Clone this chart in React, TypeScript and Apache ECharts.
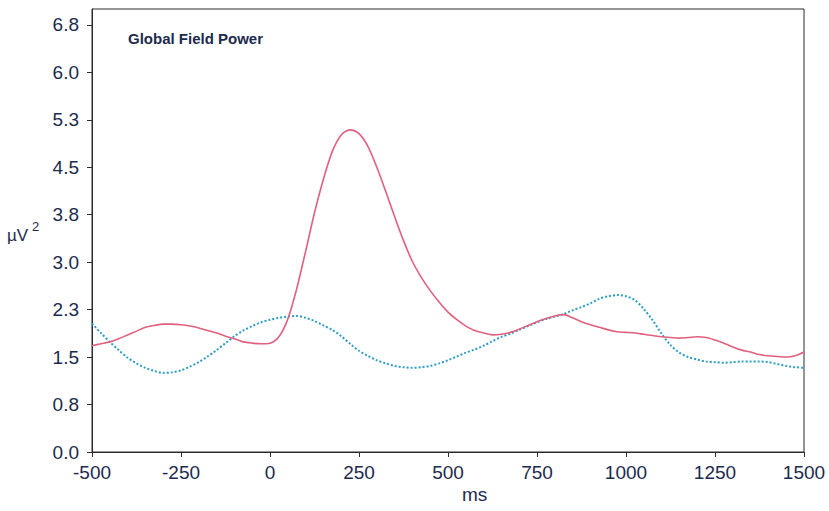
import React, { useEffect, useRef } from "react";
import * as echarts from "echarts";

const timesMs = [
  -500, -475, -450, -425, -400, -375, -350, -325, -300, -275, -250, -225, -200, -175, -150, -125, -100, -75, -50, -25,
  0, 25, 50, 75, 100, 125, 150, 175, 200, 225, 250, 275, 300, 325, 350, 375, 400, 425, 450, 475, 500, 525, 550, 575,
  600, 625, 650, 675, 700, 725, 750, 775, 800, 825, 850, 875, 900, 925, 950, 975, 1000, 1025, 1050, 1075, 1100, 1125,
  1150, 1175, 1200, 1225, 1250, 1275, 1300, 1325, 1350, 1375, 1400, 1425, 1450, 1475, 1500,
];

const redGfp = [
  1.68, 1.71, 1.74, 1.79, 1.85, 1.91, 1.97, 2.0, 2.02, 2.02, 2.01, 1.99, 1.96, 1.92, 1.88, 1.83, 1.79, 1.74, 1.72, 1.71,
  1.72, 1.82, 2.1, 2.58, 3.17, 3.78, 4.31, 4.75, 5.01, 5.09, 5.03, 4.83, 4.5, 4.12, 3.72, 3.34, 3.01, 2.76, 2.55, 2.37,
  2.21, 2.09, 1.99, 1.92, 1.88, 1.85, 1.86, 1.89, 1.94, 2.0, 2.06, 2.11, 2.15, 2.17, 2.12, 2.06, 2.01, 1.97, 1.93, 1.9,
  1.89, 1.88, 1.86, 1.84, 1.82, 1.81, 1.8, 1.81, 1.82, 1.81, 1.77, 1.72, 1.66, 1.61, 1.58, 1.54, 1.52, 1.51, 1.5, 1.52,
  1.58,
];

const blueGfp = [
  2.03, 1.88, 1.74, 1.61, 1.49, 1.4, 1.33, 1.28, 1.25, 1.26, 1.29, 1.35, 1.42, 1.51, 1.61, 1.72, 1.83, 1.92, 1.99, 2.05,
  2.09, 2.12, 2.14, 2.15, 2.12, 2.07, 2.0, 1.93, 1.83, 1.71, 1.6, 1.52, 1.45, 1.4, 1.36, 1.34, 1.33, 1.34, 1.36, 1.4,
  1.45, 1.51, 1.57, 1.62, 1.68, 1.75, 1.82, 1.87, 1.93, 1.99, 2.05, 2.1, 2.14, 2.18, 2.24, 2.29, 2.35, 2.42, 2.46, 2.48,
  2.46, 2.4, 2.26, 2.08, 1.87, 1.69, 1.57, 1.5, 1.46, 1.43, 1.42, 1.41, 1.42, 1.43, 1.43, 1.43, 1.42, 1.39, 1.36, 1.34,
  1.33,
];

const yTicks = [0, 0.75, 1.5, 2.25, 3.0, 3.75, 4.5, 5.25, 6.0, 6.75];
const xTicks = [-500, -250, 0, 250, 500, 750, 1000, 1250, 1500];

const TEXT = "#1c2a4e";
const FONT = "Liberation Sans, Arial, sans-serif";

export default function App() {
  const ref = useRef<HTMLDivElement>(null);
  useEffect(() => {
    if (!ref.current) return;
    const chart = echarts.init(ref.current, undefined, { renderer: "svg" });
    const red = timesMs.map((t, i) => [t, redGfp[i]]);
    const blue = timesMs.map((t, i) => [t, blueGfp[i]]);
    chart.setOption({
      animation: false,
      backgroundColor: "#ffffff",
      grid: {
        left: 92,
        top: 9,
        right: 25,
        bottom: 59,
        show: true,
        borderColor: "#2b2b2b",
        borderWidth: 1,
        backgroundColor: "transparent",
      },
      xAxis: {
        type: "value",
        min: -500,
        max: 1500,
        interval: 250,
        axisLine: { show: true, onZero: false, lineStyle: { color: "#2b2b2b", width: 1 } },
        axisTick: { show: true, length: 5, inside: false, customValues: xTicks, lineStyle: { color: "#2b2b2b" } },
        axisLabel: {
          customValues: xTicks,
          color: TEXT,
          fontSize: 19,
          fontFamily: FONT,
          margin: 11,
          formatter: (v: number) => String(v),
        },
        splitLine: { show: false },
      },
      yAxis: {
        type: "value",
        min: 0,
        max: 7,
        interval: 0.75,
        axisLine: { show: true, onZero: false, lineStyle: { color: "#2b2b2b", width: 1 } },
        axisTick: { show: true, length: 5, inside: false, customValues: yTicks, lineStyle: { color: "#2b2b2b" } },
        axisLabel: {
          customValues: yTicks,
          color: TEXT,
          fontSize: 19,
          fontFamily: FONT,
          margin: 13,
          formatter: (v: number) => v.toFixed(1),
        },
        splitLine: { show: false },
      },
      series: [
        {
          type: "line",
          data: red,
          smooth: 0.3,
          showSymbol: false,
          lineStyle: { color: "#e0607e", width: 1.6 },
          z: 3,
        },
        {
          type: "line",
          data: blue,
          smooth: 0.3,
          showSymbol: false,
          lineStyle: { color: "#2c9dc4", width: 2, type: "dotted" },
          z: 2,
        },
      ],
      graphic: [
        {
          type: "text",
          left: 128,
          top: 31,
          style: { text: "Global Field Power", fill: TEXT, font: "bold 15px " + FONT },
        },
        {
          type: "text",
          left: 7,
          top: 227,
          style: { text: "µV", fill: TEXT, font: "17px " + FONT },
        },
        {
          type: "text",
          left: 32,
          top: 220,
          style: { text: "2", fill: TEXT, font: "13px " + FONT },
        },
        {
          type: "text",
          left: 462,
          top: 485,
          style: { text: "ms", fill: TEXT, font: "19px " + FONT },
        },
      ],
    });
    return () => chart.dispose();
  }, []);
  return <div ref={ref} style={{ width: 829, height: 511, position: "absolute", left: 0, top: 0 }} />;
}
